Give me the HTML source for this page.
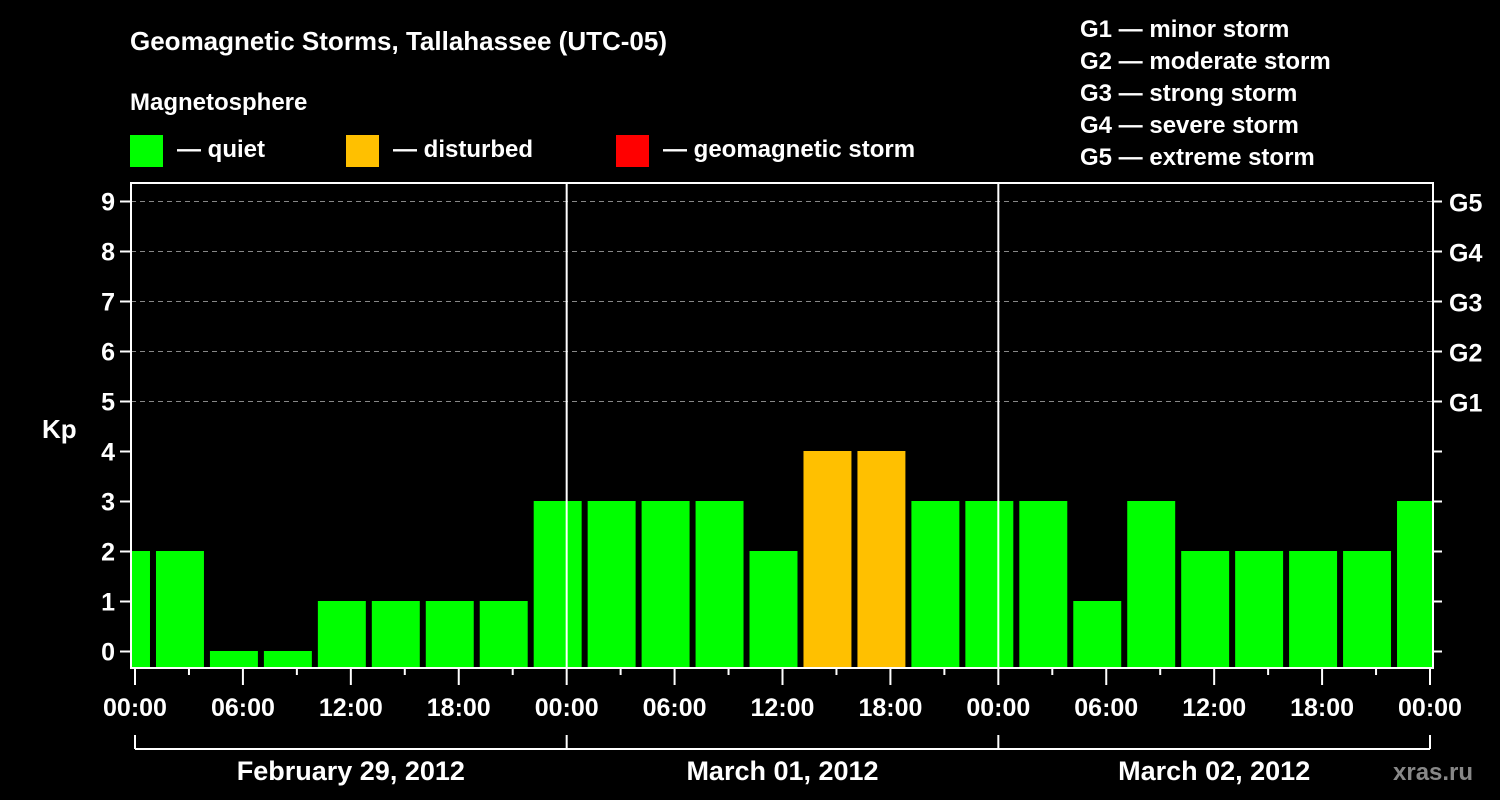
<!DOCTYPE html>
<html><head><meta charset="utf-8">
<style>
html,body{margin:0;padding:0;background:#000;}
svg{display:block;font-family:"Liberation Sans",Arial,sans-serif;font-weight:bold;}
</style></head>
<body>
<svg id="chart" width="1500" height="800" viewBox="0 0 1500 800" xmlns="http://www.w3.org/2000/svg">
<rect x="0" y="0" width="1500" height="800" fill="#000"/>
<text x="130" y="50" fill="#fff" font-size="26">Geomagnetic Storms, Tallahassee (UTC-05)</text>
<text x="130" y="110" fill="#fff" font-size="24">Magnetosphere</text>
<g>
<rect x="130" y="135" width="33" height="32" fill="#00ff00"/>
<text x="177" y="157" fill="#fff" font-size="24">— quiet</text></g>
<g>
<rect x="346" y="135" width="33" height="32" fill="#ffc000"/>
<text x="393" y="157" fill="#fff" font-size="24">— disturbed</text></g>
<g>
<rect x="616" y="135" width="33" height="32" fill="#ff0000"/>
<text x="663" y="157" fill="#fff" font-size="24">— geomagnetic storm</text></g>
<g fill="#fff" font-size="24">
<text x="1080" y="37">G1 — minor storm</text>
<text x="1080" y="69">G2 — moderate storm</text>
<text x="1080" y="101">G3 — strong storm</text>
<text x="1080" y="133">G4 — severe storm</text>
<text x="1080" y="165">G5 — extreme storm</text>
</g>
<text x="42" y="438" fill="#fff" font-size="26">Kp</text>
<g id="grid"></g>
<defs><clipPath id="plotclip"><rect x="131" y="183" width="1302" height="485"/></clipPath></defs>
<g id="bars" clip-path="url(#plotclip)"></g>
<g id="axes"></g>
<text x="1393" y="780" fill="#888" font-size="24">xras.ru</text>
</svg>
<script>
const values = [2,2,0,0,1,1,1,1,3,3,3,3,2,4,4,3,3,3,1,3,2,2,2,2,3];
const binStart = [-2,1,4,7,10,13,16,19,22,25,28,31,34,37,40,43,46,49,52,55,58,61,64,67,70];
const kpTicks = [0,1,2,3,4,5,6,7,8,9];
const gLabels = ["G1","G2","G3","G4","G5"];
const hourLabels = ["00:00","06:00","12:00","18:00","00:00","06:00","12:00","18:00","00:00","06:00","12:00","18:00","00:00"];
const dayLabels = ["February 29, 2012","March 01, 2012","March 02, 2012"];

const NS="http://www.w3.org/2000/svg";
const X0=135, X1=1430, TOTAL=72;
function xT(h){return X0+(X1-X0)*h/TOTAL;}
function yK(k){return 651.5-50*k;}
function mk(tag,attrs,parent,txt){const e=document.createElementNS(NS,tag);for(const k in attrs)e.setAttribute(k,attrs[k]);if(txt!==undefined)e.textContent=txt;parent.appendChild(e);return e;}
const grid=document.getElementById('grid'),bars=document.getElementById('bars'),axes=document.getElementById('axes');
const L=131,R=1433,T=183,B=668;

for(let k=5;k<=9;k++){
  const l=mk('line',{x1:L,x2:R,y1:yK(k),y2:yK(k),stroke:'#888','stroke-width':1,'stroke-dasharray':'5,4'},grid);
  
  
}
values.forEach((v,i)=>{
  const x0=xT(binStart[i])+3, x1=xT(binStart[i]+3)-3;
  const col=v>=5?'#ff0000':(v>=4?'#ffc000':'#00ff00');
  const r=mk('rect',{x:x0,y:yK(v)-0.5,width:x1-x0,height:B-yK(v)+0.5,fill:col},bars);
  
  
});
const frame=mk('rect',{x:L,y:T,width:R-L,height:B-T,fill:'none',stroke:'#fff','stroke-width':2},axes);


[24,48].forEach(h=>{
  const l=mk('line',{x1:xT(h),x2:xT(h),y1:T,y2:B,stroke:'#fff','stroke-width':2},axes);
  
  
});
kpTicks.forEach(k=>{
  mk('line',{x1:L-11,x2:L,y1:yK(k),y2:yK(k),stroke:'#fff','stroke-width':2},axes);
  mk('line',{x1:R,x2:R+9,y1:yK(k),y2:yK(k),stroke:'#fff','stroke-width':2},axes);
  const t=mk('text',{x:L-16,y:yK(k)+9,fill:'#fff','font-size':25,'text-anchor':'end'},axes,String(k));
  
  
});
gLabels.forEach((g,i)=>{
  const t=mk('text',{x:1449,y:yK(5+i)+10,fill:'#fff','font-size':25},axes,g);
  
  
});
for(let h=0;h<=72;h+=3){
  const major=h%6===0;
  mk('line',{x1:xT(h),x2:xT(h),y1:B,y2:major?685:675,stroke:'#fff','stroke-width':2},axes);
}
hourLabels.forEach((s,i)=>{
  const t=mk('text',{x:xT(i*6),y:716,fill:'#fff','font-size':25,'text-anchor':'middle'},axes,s);
  
  
});
mk('line',{x1:xT(0),x2:xT(72),y1:749,y2:749,stroke:'#fff','stroke-width':2},axes);
[0,24,48,72].forEach(h=>mk('line',{x1:xT(h),x2:xT(h),y1:735,y2:749,stroke:'#fff','stroke-width':2},axes));
dayLabels.forEach((s,i)=>{
  const t=mk('text',{x:xT(i*24+12),y:780,fill:'#fff','font-size':27,'text-anchor':'middle'},axes,s);
  
  
});
</script>
</body></html>
